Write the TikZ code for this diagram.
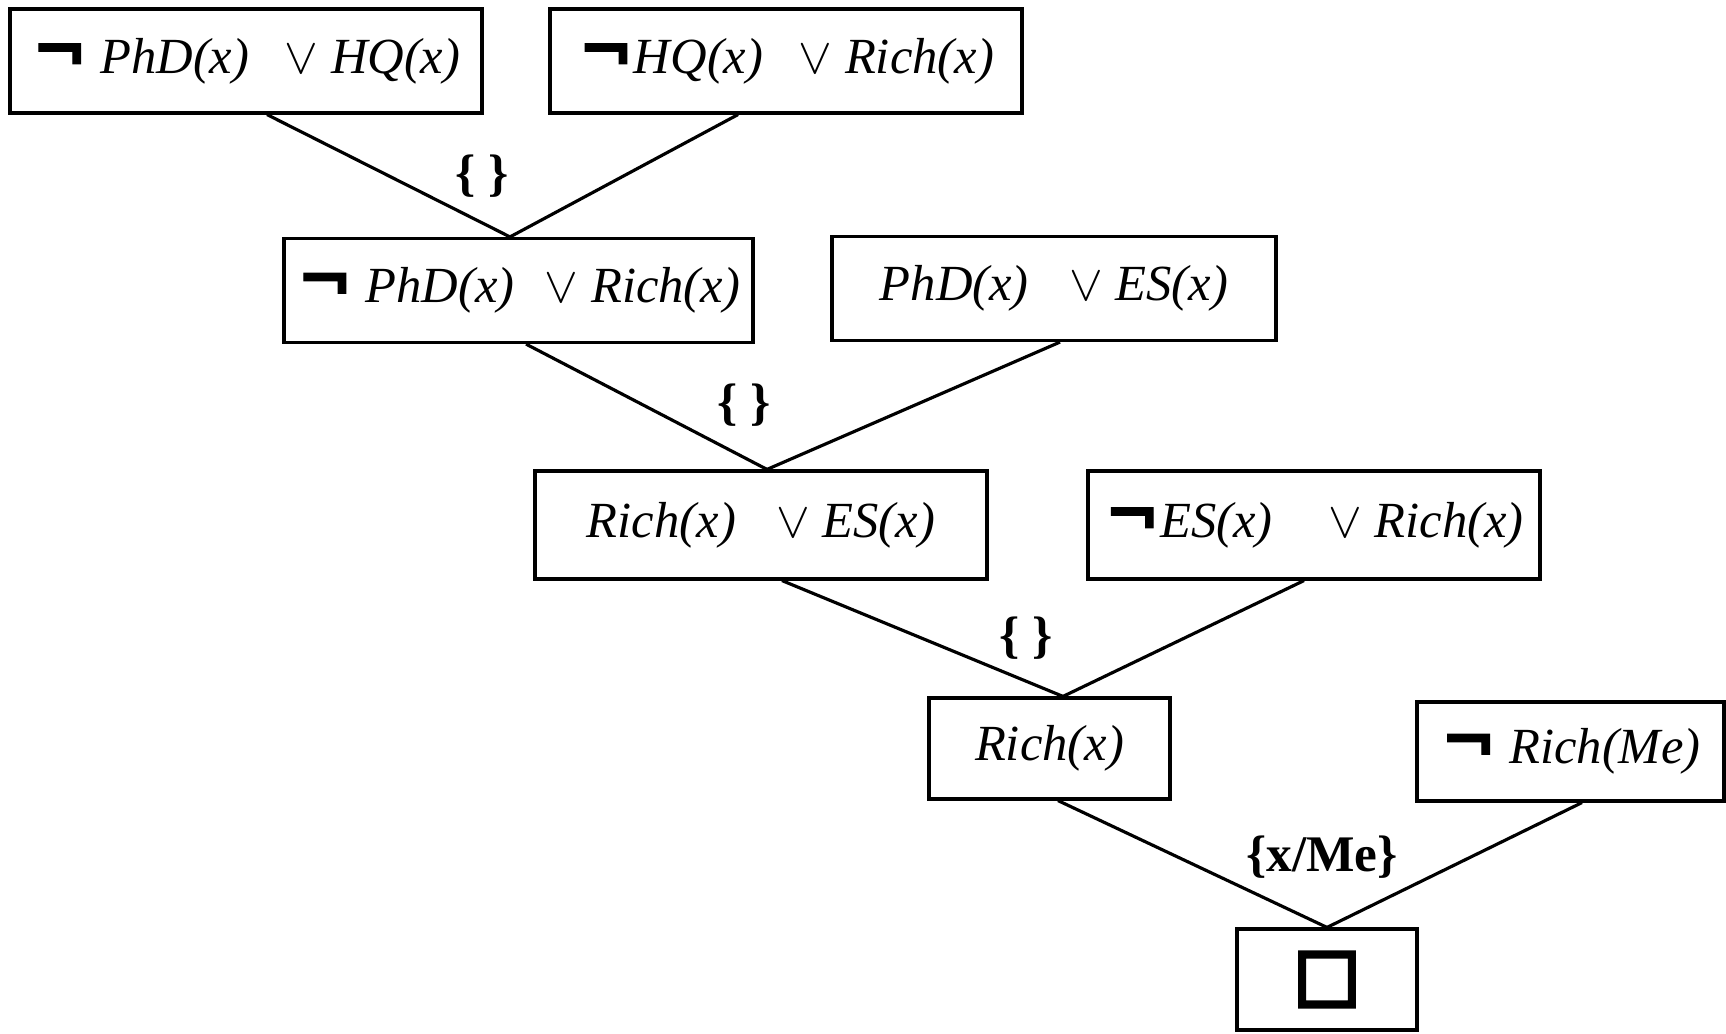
\documentclass[tikz,border=0pt]{standalone}
\usepackage{fontspec}
\setmainfont{Liberation Serif}
\newfontfamily\negfont[FakeBold=1.5]{DejaVu Sans}
\newfontfamily\boxfont[FakeBold=6]{DejaVu Sans}
\usetikzlibrary{positioning}
\tikzstyle{link}   = [line width=0.9pt]
\tikzstyle{clause} = [rectangle, draw, line width=0.9pt, inner sep=0pt, minimum height=1.04cm, font=\itshape\fontsize{14.4}{18}\selectfont]
\tikzstyle{subst}  = [font=\bfseries\fontsize{14.6}{18}\selectfont]
\tikzset{every node/.style={align=center}}
\newcommand{\notsym}{{\negfont\bfseries\fontsize{19}{18}\selectfont ¬}}
\newcommand{\orsym}{$\vee$}

\begin{document}
\begin{tikzpicture}
    \useasboundingbox (0,0) rectangle (17.26,-10.34);

    \node (c1) at (2.46, -0.61)   [clause, minimum width=4.72cm] {\notsym\ PhD(x)\hspace{0.7em}\orsym\ HQ(x)};
    \node (c2) at (7.86, -0.61)   [clause, minimum width=4.72cm] {\notsym HQ(x)\hspace{0.7em}\orsym\ Rich(x)};
    \node (r1) at (5.185, -2.905) [clause, minimum width=4.69cm] {\notsym\ PhD(x)\hspace{0.6em}\orsym\ Rich(x)};
    \node (c3) at (10.54, -2.885) [clause, minimum width=4.44cm] {PhD(x)\hspace{0.8em}\orsym\ ES(x)};
    \node (r2) at (7.61, -5.25)   [clause, minimum width=4.52cm, minimum height=1.08cm] {Rich(x)\hspace{0.8em}\orsym\ ES(x)};
    \node (c4) at (13.14, -5.25)  [clause, minimum width=4.52cm, minimum height=1.08cm] {\notsym ES(x)\hspace{1.1em}\orsym\ Rich(x)};
    \node (r3) at (10.495, -7.485) [clause, minimum width=2.41cm, minimum height=1.01cm] {Rich(x)};
    \node (c5) at (15.705, -7.515) [clause, minimum width=3.07cm, minimum height=0.99cm] {\notsym\ Rich(Me)};
    \node (r4) at (13.27, -9.795) [clause, minimum width=1.80cm, minimum height=1.01cm] {{\boxfont\fontsize{20}{20}\selectfont □}};

    \node (s1) at (4.82, -1.76)  [subst] {\{ \}};
    \node (s2) at (7.44, -4.05)  [subst] {\{ \}};
    \node (s3) at (10.26, -6.38) [subst] {\{ \}};
    \node (s4) at (13.22, -8.57) [subst] {\{x/Me\}};

    \draw [link] ([xshift=0.21cm]c1.south)   -- ([xshift=-0.085cm]r1.north);
    \draw [link] ([xshift=-0.48cm]c2.south)  -- ([xshift=-0.085cm]r1.north);
    \draw [link] ([xshift=0.075cm]r1.south)  -- ([xshift=0.06cm]r2.north);
    \draw [link] ([xshift=0.06cm]c3.south)   -- ([xshift=0.06cm]r2.north);
    \draw [link] ([xshift=0.21cm]r2.south)   -- ([xshift=0.135cm]r3.north);
    \draw [link] ([xshift=-0.10cm]c4.south)  -- ([xshift=0.135cm]r3.north);
    \draw [link] ([xshift=0.085cm]r3.south)  -- (r4.north);
    \draw [link] ([xshift=0.115cm]c5.south)  -- (r4.north);
\end{tikzpicture}
\end{document}
